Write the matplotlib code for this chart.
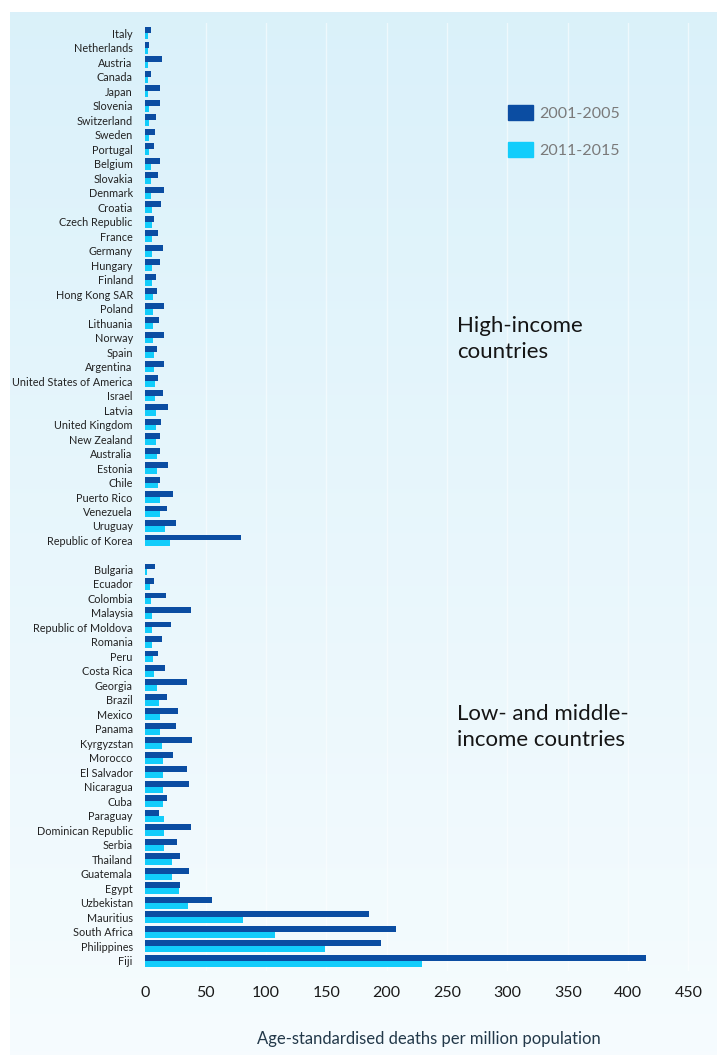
import numpy as np
import matplotlib
matplotlib.use("Agg")
import matplotlib.pyplot as plt
from matplotlib.patches import Patch

plt.rcParams['font.family'] = ['Lato', 'DejaVu Sans']

high_income = [
    "Italy", "Netherlands", "Austria", "Canada", "Japan", "Slovenia",
    "Switzerland", "Sweden", "Portugal", "Belgium", "Slovakia", "Denmark",
    "Croatia", "Czech Republic", "France", "Germany", "Hungary", "Finland",
    "Hong Kong SAR", "Poland", "Lithuania", "Norway", "Spain", "Argentina",
    "United States of America", "Israel", "Latvia", "United Kingdom",
    "New Zealand", "Australia", "Estonia", "Chile", "Puerto Rico",
    "Venezuela", "Uruguay", "Republic of Korea",
]
high_2001_2005 = [
    4.7, 3.0, 13.9, 5.0, 12.2, 12.2, 8.6, 7.8, 7.2, 12.2, 10.6, 15.3,
    12.8, 7.2, 10.8, 15.0, 12.5, 8.6, 9.4, 15.3, 11.1, 15.8, 9.4, 15.8,
    10.3, 15.0, 18.9, 13.3, 12.2, 12.2, 18.6, 11.9, 22.8, 17.8, 25.8, 79.7,
]
high_2011_2015 = [
    2.0, 2.0, 2.5, 2.3, 2.5, 3.0, 3.0, 3.0, 3.0, 4.5, 4.5, 4.5,
    5.3, 5.3, 5.3, 5.3, 5.5, 5.8, 6.0, 6.4, 6.4, 6.4, 6.9, 7.2,
    8.0, 8.3, 8.6, 8.6, 9.2, 9.4, 9.4, 10.3, 11.9, 12.5, 16.1, 20.3,
]

low_income = [
    "Bulgaria", "Ecuador", "Colombia", "Malaysia", "Republic of Moldova",
    "Romania", "Peru", "Costa Rica", "Georgia", "Brazil", "Mexico", "Panama",
    "Kyrgyzstan", "Morocco", "El Salvador", "Nicaragua", "Cuba", "Paraguay",
    "Dominican Republic", "Serbia", "Thailand", "Guatemala", "Egypt",
    "Uzbekistan", "Mauritius", "South Africa", "Philippines", "Fiji",
]
low_2001_2005 = [
    8.0, 7.5, 17.2, 37.8, 21.7, 14.2, 10.6, 16.7, 34.7, 18.3, 26.9, 25.6,
    38.3, 22.8, 34.7, 35.8, 18.0, 11.4, 37.8, 26.4, 28.9, 35.8, 28.9,
    55.0, 185.0, 207.5, 195.5, 415.0,
]
low_2011_2015 = [
    1.7, 3.9, 4.7, 5.6, 5.3, 5.8, 6.1, 7.5, 9.4, 11.7, 11.9, 12.5,
    13.6, 14.4, 14.4, 15.0, 15.0, 15.3, 15.8, 15.8, 21.9, 22.5, 28.3,
    35.0, 81.0, 107.6, 149.0, 229.0,
]

period_labels = ["2001-2005", "2011-2015"]
x_ticks = [0, 50, 100, 150, 200, 250, 300, 350, 400, 450]

dark = "#0b4da2"
light = "#12cdfb"

labels = high_income + [""] + low_income
v1 = high_2001_2005 + [np.nan] + low_2001_2005
v2 = high_2011_2015 + [np.nan] + low_2011_2015
pos = np.arange(len(labels))

W, H = 726, 1061
fig = plt.figure(figsize=(W / 100, H / 100), dpi=100)
fig.patch.set_facecolor("white")

# light blue panel, fading towards the bottom
bg = fig.add_axes([10 / W, 6 / H, 706 / W, 1043 / H], zorder=0)
grad = np.linspace(0, 1, 256).reshape(-1, 1)
top_c = np.array([0.855, 0.945, 0.980])
bot_c = np.array([0.965, 0.988, 0.997])
img = top_c * (1 - grad[..., None]) + bot_c * grad[..., None]
bg.imshow(img, aspect="auto", extent=[0, 1, 0, 1], origin="upper")
bg.axis("off")

ax = fig.add_axes([145.3 / W, (H - 971) / H, 470 * 1.207 / W, 948 / H], zorder=1)
ax.patch.set_alpha(0)

h = 0.41
ax.barh(pos - h / 2, v1, height=h, color=dark, label=period_labels[0], zorder=3)
ax.barh(pos + h / 2, v2, height=h, color=light, label=period_labels[1], zorder=3)

ax.set_ylim(len(labels) - 1 + 0.7, -0.7)
ax.set_xlim(0, 470)
ax.set_yticks(pos)
ax.set_yticklabels(labels, fontsize=7.8, color="#222222")
ax.set_xticks(x_ticks)
ax.set_xticklabels([str(t) for t in x_ticks], fontsize=11.5, color="#1a1a1a")
ax.tick_params(axis="y", length=0, pad=9)
ax.tick_params(axis="x", length=0, pad=11)

for t in x_ticks[1:]:
    ax.axvline(t, color="white", lw=1.0, alpha=0.55, zorder=1)
for s in ax.spines.values():
    s.set_visible(False)

ax.set_xlabel("Age-standardised deaths per million population",
              fontsize=12, color="#23394a", labelpad=22)

handles = [Patch(facecolor=dark, edgecolor=dark), Patch(facecolor=light, edgecolor=light)]
fig.legend(handles, period_labels, loc="upper left",
           bbox_to_anchor=(494 / W, 1 - 91 / H), frameon=False,
           fontsize=11.5, labelcolor="#7a7a7a", handlelength=1.55,
           handleheight=1.05, labelspacing=1.3, handletextpad=0.35)

fig.text(457 / W, 1 - 339 / H, "High-income\ncountries", fontsize=16,
         color="#151515", ha="left", va="center", linespacing=1.35)
fig.text(457 / W, 1 - 727 / H, "Low- and middle-\nincome countries", fontsize=16,
         color="#151515", ha="left", va="center", linespacing=1.35)

fig.savefig("out.png", dpi=100)
